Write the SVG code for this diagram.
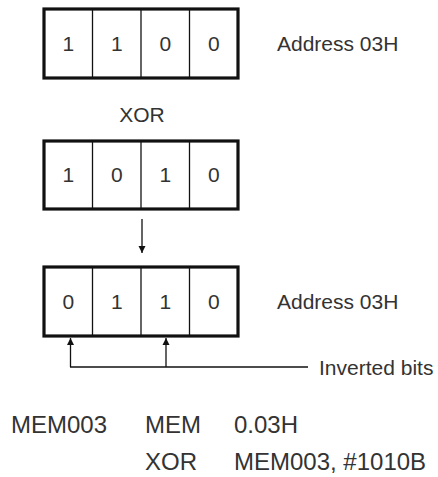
<svg xmlns="http://www.w3.org/2000/svg" width="438" height="477" viewBox="0 0 438 477">
<defs>
<style>
text{font-family:"Liberation Sans",Arial,sans-serif;fill:#333;}
.d{font-size:21px;text-anchor:middle;}
.l{font-size:21px;}
.c{font-size:24px;}
.box{fill:#fff;stroke:#111;stroke-width:3.2;}
.div{stroke:#111;stroke-width:1.3;}
.con{stroke:#111;stroke-width:1.3;fill:none;}
</style>
<marker id="ah" viewBox="0 0 10 10" refX="10" refY="5" markerWidth="7" markerHeight="10" markerUnits="userSpaceOnUse" orient="auto">
<path d="M0,0 L10,5 L0,10 z" fill="#111"/>
</marker>
</defs>
<g id="reg1">
<rect class="box" x="44" y="9" width="194" height="69"/>
<line class="div" x1="92.5" y1="9" x2="92.5" y2="78"/>
<line class="div" x1="141" y1="9" x2="141" y2="78"/>
<line class="div" x1="189.5" y1="9" x2="189.5" y2="78"/>
<text class="d" x="68.25" y="51">1</text>
<text class="d" x="116.75" y="51">1</text>
<text class="d" x="165.25" y="51">0</text>
<text class="d" x="213.75" y="51">0</text>
</g>
<g id="addr1"><text class="l" x="277" y="51">Address 03H</text></g>
<g id="xor"><text class="d" x="142" y="122">XOR</text></g>
<g id="reg2">
<rect class="box" x="44" y="141" width="194" height="68"/>
<line class="div" x1="92.5" y1="141" x2="92.5" y2="209"/>
<line class="div" x1="141" y1="141" x2="141" y2="209"/>
<line class="div" x1="189.5" y1="141" x2="189.5" y2="209"/>
<text class="d" x="68.25" y="182">1</text>
<text class="d" x="116.75" y="182">0</text>
<text class="d" x="165.25" y="182">1</text>
<text class="d" x="213.75" y="182">0</text>
</g>
<g id="reg3">
<rect class="box" x="44" y="267" width="194" height="69"/>
<line class="div" x1="92.5" y1="267" x2="92.5" y2="336"/>
<line class="div" x1="141" y1="267" x2="141" y2="336"/>
<line class="div" x1="189.5" y1="267" x2="189.5" y2="336"/>
<text class="d" x="68.25" y="309">0</text>
<text class="d" x="116.75" y="309">1</text>
<text class="d" x="165.25" y="309">1</text>
<text class="d" x="213.75" y="309">0</text>
</g>
<g id="addr3"><text class="l" x="277" y="309">Address 03H</text></g>
<g id="inv"><text class="l" x="319" y="375">Inverted bits</text></g>
<g id="connectors">
<line class="con" x1="142" y1="219" x2="142" y2="253" marker-end="url(#ah)"/>
<line class="con" x1="70.5" y1="367" x2="70.5" y2="338" marker-end="url(#ah)"/>
<line class="con" x1="166" y1="367" x2="166" y2="338" marker-end="url(#ah)"/>
<line class="con" x1="70" y1="367" x2="308" y2="367"/>
</g>
<g id="code">
<text class="c" x="11" y="433">MEM003</text>
<text class="c" x="145" y="433">MEM</text>
<text class="c" x="234" y="433">0.03H</text>
<text class="c" x="145" y="470">XOR</text>
<text class="c" x="234" y="470">MEM003, #1010B</text>
</g>
</svg>
